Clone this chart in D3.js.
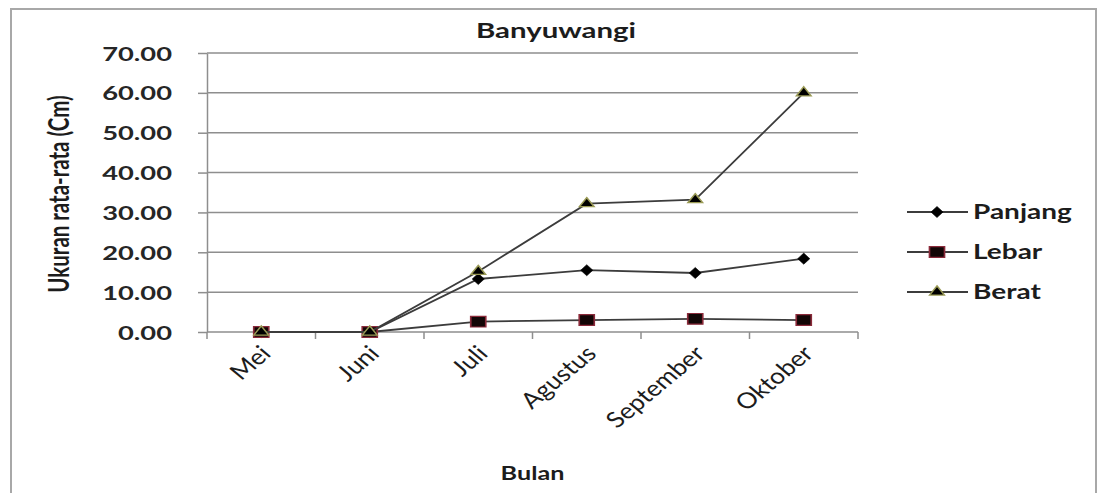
<!DOCTYPE html>
<html>
<head>
<meta charset="utf-8">
<script src="https://cdn.jsdelivr.net/npm/d3@7/dist/d3.min.js"></script>
<style>
  html, body { margin: 0; padding: 0; background: #fff; }
  svg { display: block; }
  text { font-family: Lato, "Open Sans", sans-serif; fill: #1c1c1c; }
</style>
</head>
<body>
<svg id="chart" width="1097" height="493"></svg>
<script>
// Monthly average size, Banyuwangi
const months = ["Mei", "Juni", "Juli", "Agustus", "September", "Oktober"];
const panjang = [0, 0, 13.3, 15.5, 14.8, 18.4];
const lebar   = [0, 0, 2.6, 3.0, 3.3, 3.0];
const berat   = [0, 0, 15.2, 32.2, 33.2, 60.0];
const yTicks  = [0, 10, 20, 30, 40, 50, 60, 70];
const seriesNames = ["Panjang", "Lebar", "Berat"];

const W = 1097, H = 493;
const SX = 1.4;      // horizontal stretch of glyphs and markers
const SX_CAT = 1.2;  // stretch for the slanted month labels
const plot = { left: 207, right: 858, top: 53, bottom: 332 };

const svg = d3.select("#chart");

svg.append("rect").attr("width", W).attr("height", H).attr("fill", "#fff");

// chart frame
svg.append("rect")
  .attr("x", 11).attr("y", 9).attr("width", 1085).attr("height", 500)
  .attr("fill", "none").attr("stroke", "#a8a8a8").attr("stroke-width", 2);

const x = d3.scaleBand().domain(months).range([plot.left, plot.right]).padding(0);
const xc = m => x(m) + x.bandwidth() / 2;
const y = d3.scaleLinear().domain([0, 70]).range([plot.bottom, plot.top]);

function stretched(sel, tx, ty, extra, sx) {
  const k = sx || SX;
  return sel.attr("transform", d => {
    const px = typeof tx === "function" ? tx(d) : tx;
    const py = typeof ty === "function" ? ty(d) : ty;
    return `translate(${px},${py}) scale(${k},1)` + (extra ? " " + extra : "");
  });
}

// title
stretched(svg.append("text"), 556, 38)
  .attr("text-anchor", "middle")
  .style("font-weight", "bold").style("font-size", "21px")
  .text("Banyuwangi");

// horizontal gridlines
svg.append("g").selectAll("line").data(yTicks.filter(d => d > 0)).join("line")
  .attr("x1", plot.left).attr("x2", plot.right)
  .attr("y1", d => y(d)).attr("y2", d => y(d))
  .attr("stroke", "#8e8e8e").attr("stroke-width", 1.5);

// y axis
const yAxis = svg.append("g")
  .attr("transform", `translate(${plot.left},0)`)
  .call(d3.axisLeft(y).tickValues(yTicks).tickSize(9).tickSizeOuter(0).tickFormat(d3.format(".2f")));
yAxis.select(".domain").attr("stroke", "#8e8e8e").attr("stroke-width", 1.5);
yAxis.selectAll(".tick line").attr("stroke", "#8e8e8e").attr("stroke-width", 1.5);
yAxis.selectAll(".tick text")
  .attr("x", null).attr("dy", "0.36em")
  .attr("transform", `translate(-35,0) scale(${SX},1)`)
  .attr("text-anchor", "end")
  .style("font-family", "Lato, sans-serif")
  .style("font-weight", "bold").style("font-size", "19.5px")
  .style("fill", "#262626");

// x axis line with ticks at category boundaries
const xAxis = svg.append("g");
xAxis.append("line")
  .attr("x1", plot.left).attr("x2", plot.right)
  .attr("y1", y(0)).attr("y2", y(0))
  .attr("stroke", "#8e8e8e").attr("stroke-width", 1.5);
xAxis.selectAll("line.tk")
  .data(months.map(m => x(m)).concat([x.range()[1]]))
  .join("line").attr("class", "tk")
  .attr("x1", d => d).attr("x2", d => d)
  .attr("y1", y(0)).attr("y2", y(0) + 7)
  .attr("stroke", "#8e8e8e").attr("stroke-width", 1.5);
stretched(xAxis.selectAll("text").data(months).join("text"),
          d => xc(d) + 11, y(0) + 23, "rotate(-45)", SX_CAT)
  .attr("text-anchor", "end")
  .style("font-size", "22px")
  .text(d => d);

// axis titles
stretched(svg.append("text"), plot.left + (plot.right - plot.left) / 2, 480)
  .attr("text-anchor", "middle")
  .style("font-weight", "bold").style("font-size", "18px")
  .text("Bulan");

svg.append("text")
  .attr("transform", `translate(69,194) scale(${SX},1) rotate(-90)`)
  .attr("text-anchor", "middle")
  .style("font-weight", "bold").style("font-size", "20.5px")
  .text("Ukuran rata-rata (Cm)");

// marker shapes
const diamond = d3.symbol().type({
  draw(ctx, size) {
    const h = Math.sqrt(size) * 0.62, w = h * 0.78;
    ctx.moveTo(0, -h); ctx.lineTo(w, 0); ctx.lineTo(0, h); ctx.lineTo(-w, 0); ctx.closePath();
  }
}).size(80);
const square = d3.symbol().type(d3.symbolSquare).size(115);
const triangle = d3.symbol().type(d3.symbolTriangle).size(48);

const series = [
  { name: seriesNames[0], values: panjang, marker: diamond, fill: "#000", stroke: "#000", sw: 0.5 },
  { name: seriesNames[1], values: lebar, marker: square, fill: "#120606", stroke: "#8a2a3a", sw: 1.2 },
  { name: seriesNames[2], values: berat, marker: triangle, fill: "#000", stroke: "#9a9a55", sw: 1.2 }
];

const line = d3.line().x(d => xc(d.m)).y(d => y(d.v));

series.forEach(s => {
  const pts = months.map((m, i) => ({ m, v: s.values[i] }));
  svg.append("path").datum(pts)
    .attr("d", line).attr("fill", "none")
    .attr("stroke", "#3c3c3c").attr("stroke-width", 1.8);
  svg.append("g").selectAll("path").data(pts).join("path")
    .attr("d", s.marker())
    .attr("transform", d => `translate(${xc(d.m)},${y(d.v)}) scale(${SX},1)`)
    .attr("fill", s.fill).attr("stroke", s.stroke).attr("stroke-width", s.sw);
});

// legend
const legendY = d3.scalePoint().domain(seriesNames).range([212, 292]);
const legend = svg.append("g");
series.forEach(s => {
  const ly = legendY(s.name);
  legend.append("line")
    .attr("x1", 907).attr("x2", 968).attr("y1", ly).attr("y2", ly)
    .attr("stroke", "#3c3c3c").attr("stroke-width", 1.8);
  legend.append("path")
    .attr("d", s.marker())
    .attr("transform", `translate(937,${ly}) scale(${SX},1)`)
    .attr("fill", s.fill).attr("stroke", s.stroke).attr("stroke-width", s.sw);
  stretched(legend.append("text"), 973, ly)
    .attr("dy", "0.36em")
    .style("font-weight", "bold").style("font-size", "20px")
    .text(s.name);
});
</script>
</body>
</html>
